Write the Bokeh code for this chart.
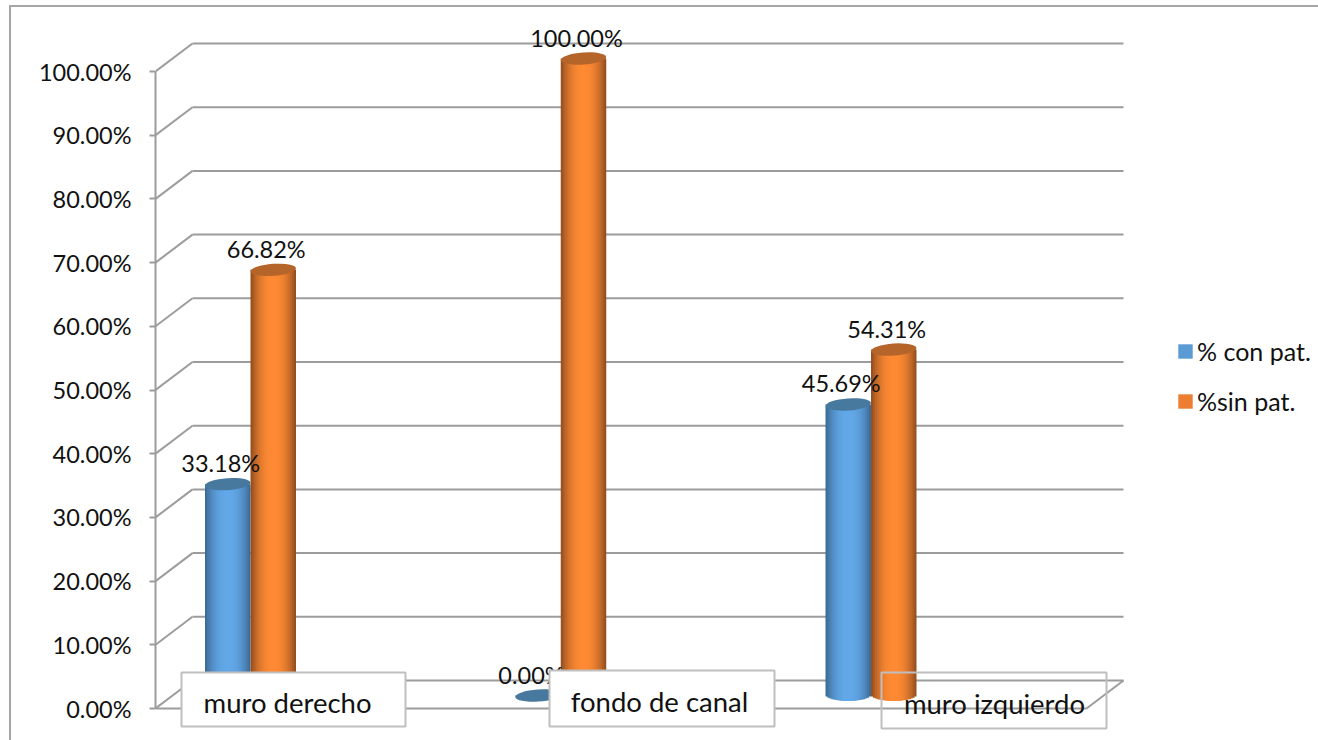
import math
from bokeh.plotting import figure
from bokeh.embed import file_html
from bokeh.resources import INLINE
from bokeh.models import (ColumnDataSource, Legend, LegendItem,
                          PrintfTickFormatter, Range1d, FixedTicker)
from bokeh.core.properties import value

# Chart data
categories = ["muro derecho", "fondo de canal", "muro izquierdo"]
con_pat = [33.18, 0.00, 45.69]
sin_pat = [66.82, 100.00, 54.31]
series_names = ["% con pat.", "%sin pat."]
axis_ticks = [0, 10, 20, 30, 40, 50, 60, 70, 80, 90, 100]

FONT = "Lato"
GRID = "#9c9c9c"
BOX = "#bfbfbf"
INK = "#111111"

# Page geometry of the pseudo-3D plot box
W, H = 1318, 740
PX_PER_UNIT = 6.37
FRONT_ZERO, BARS_ZERO, WALL_ZERO = 708, 695, 680
AXIS_X, WALL_X, WALL_RIGHT, FLOOR_RIGHT = 155, 192, 1123, 1086
CAT_ORIGIN, CAT_STEP = 250.0, 310.25
BAR_PX = 45.5


def to_x(px):
    return (px - CAT_ORIGIN) / CAT_STEP


def span_for(zero):
    return Range1d((zero - H) / PX_PER_UNIT, zero / PX_PER_UNIT)


p = figure(width=W, height=H, output_backend="svg", toolbar_location=None,
           x_axis_location=None, y_axis_location="left",
           x_range=Range1d(to_x(AXIS_X), to_x(W)), y_range=span_for(FRONT_ZERO),
           min_border_left=AXIS_X, min_border_right=0, min_border_top=0, min_border_bottom=0,
           outline_line_color=None, background_fill_color="white", border_fill_color="white")
p.extra_y_ranges = {"bars": span_for(BARS_ZERO), "wall": span_for(WALL_ZERO)}
p.grid.visible = False

# Outer chart frame: only the top and left edges fall inside the page
p.stylesheets = [":host::after{content:'';position:absolute;left:9px;top:5px;width:1309px;height:735px;"
                 "box-sizing:border-box;border-left:2px solid #a6a6a6;border-top:2px solid #a6a6a6;"
                 "pointer-events:none;}"]

# Value axis on the front left edge
ax = p.yaxis[0]
ax.ticker = FixedTicker(ticks=axis_ticks)
ax.formatter = PrintfTickFormatter(format="%.2f%%")
ax.bounds = (0, 100)
ax.axis_line_color = GRID
ax.axis_line_width = 2
ax.major_tick_line_color = GRID
ax.major_tick_line_width = 2
ax.major_tick_in = 0
ax.major_tick_out = 6
ax.minor_tick_line_color = None
ax.major_label_standoff = 18
ax.major_label_text_font = FONT
ax.major_label_text_font_size = "23.5px"
ax.major_label_text_color = INK

# Back wall lines and their returns to the axis
wall_lift = (FRONT_ZERO - WALL_ZERO) / PX_PER_UNIT
p.segment(x0=to_x(WALL_X), x1=to_x(WALL_RIGHT), y0=axis_ticks, y1=axis_ticks,
          y_range_name="wall", line_color=GRID, line_width=2)
p.segment(x0=to_x(AXIS_X), x1=to_x(WALL_X), y0=axis_ticks, y1=[t + wall_lift for t in axis_ticks],
          line_color=GRID, line_width=2)
# Floor front edge and right return
p.segment(x0=[to_x(AXIS_X), to_x(FLOOR_RIGHT)], x1=[to_x(FLOOR_RIGHT), to_x(WALL_RIGHT)],
          y0=[0, 0], y1=[0, wall_lift], line_color=GRID, line_width=2)


def blend(a, b, t):
    return "#%02x%02x%02x" % tuple(round(x + (y - x) * t) for x, y in zip(a, b))


# Cylinders: each body is a stack of nested bars, widest and darkest first
BANDS = 12
FOOT_RY = 5.5
BAR_W = BAR_PX / CAT_STEP


def cylinder(values, side, edge, centre, top_color):
    centres = [i + side * BAR_W / 2 for i in range(len(values))]
    xs, tops, bottoms, widths, colors = [], [], [], [], []
    for mid, v in zip(centres, values):
        for k in range(BANDS):
            u = 1 - k / BANDS
            xs.append(mid)
            tops.append(v)
            bottoms.append(-FOOT_RY * math.sqrt(1 - min(u, 0.985) ** 2) / PX_PER_UNIT)
            widths.append(BAR_W * u)
            colors.append(blend(edge, centre, 1 - u ** 2.4))
    src = ColumnDataSource(dict(x=xs, top=tops, bottom=bottoms, w=widths, color=colors))
    p.vbar(x="x", top="top", bottom="bottom", width="w", source=src,
           fill_color="color", line_color=None, y_range_name="bars")
    p.ellipse(x=centres, y=values, width=BAR_W, height=12, height_units="screen", angle=0.07,
              fill_color=top_color, line_color=None, y_range_name="bars")
    return centres


blue_x = cylinder(con_pat, -1, (62, 108, 152), (98, 168, 232), "#47799f")
orange_x = cylinder(sin_pat, 1, (150, 80, 33), (255, 138, 51), "#b5652a")

# Value labels above the cylinders
for xs, vals in ((blue_x, con_pat), (orange_x, sin_pat)):
    p.text(x=xs, y=vals, text=["%.2f%%" % v for v in vals], y_range_name="bars",
           x_offset=-7, y_offset=-21, text_align="center", text_baseline="middle",
           text_font=value(FONT), text_font_size="23.5px", text_color=INK)

# Boxed category labels; the last box is left unfilled
box_left = [181, 549, 881]
box_right = [405, 774, 1106]
box_top = [672, 670, 672]
box_bottom = [726, 726, 728]
box_fill = ["white", "white", None]
label_x = [287, 659, 994]
label_y = [702, 701, 703]
for i in range(3):
    p.quad(left=to_x(box_left[i]), right=to_x(box_right[i]),
           top=(FRONT_ZERO - box_top[i]) / PX_PER_UNIT,
           bottom=(FRONT_ZERO - box_bottom[i]) / PX_PER_UNIT,
           fill_color=box_fill[i], line_color=BOX, line_width=2)
    p.text(x=[to_x(label_x[i])], y=[(FRONT_ZERO - label_y[i]) / PX_PER_UNIT], text=[categories[i]],
           text_align="center", text_baseline="middle",
           text_font=value(FONT), text_font_size="27.5px", text_color=INK)

# Legend swatches to the right of the plot; their bars sit outside the visible range
r0 = p.vbar(x=[-9], top=[1], bottom=[0], width=1, fill_color="#5B9BD5", line_color=None)
r1 = p.vbar(x=[-9], top=[1], bottom=[0], width=1, fill_color="#ED7D31", line_color=None)
legend = Legend(items=[LegendItem(label=series_names[0], renderers=[r0]),
                       LegendItem(label=series_names[1], renderers=[r1])],
                location=(1021, 324), orientation="vertical", border_line_color=None,
                background_fill_alpha=0, margin=0, padding=8, spacing=20,
                glyph_width=18, glyph_height=18, label_standoff=3,
                label_text_font=FONT, label_text_font_size="25px", label_text_color=INK)
p.add_layout(legend, "center")

open("out.html", "w").write(file_html(p, INLINE))
